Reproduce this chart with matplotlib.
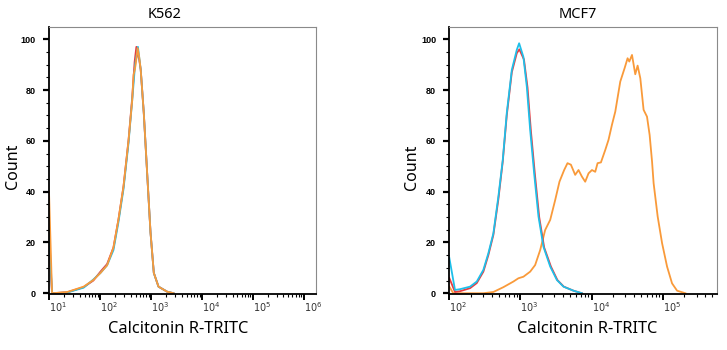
import numpy as np
import matplotlib
matplotlib.use("Agg")
import matplotlib.pyplot as plt
from matplotlib.ticker import LogLocator, MultipleLocator, NullFormatter

# histogram traces, x given as log10(intensity)
k562_red_log = [1.0, 1.06, 1.36, 1.68, 1.87, 2.01, 2.14, 2.265, 2.363, 2.462, 2.56, 2.633,
                2.68, 2.715, 2.735, 2.77, 2.80, 2.86, 2.927, 2.992, 3.057, 3.149, 3.32, 3.444]
k562_red = [20, 0, 0.4, 2.4, 5.0, 8.5, 11.5, 18, 29, 42, 60, 77,
            91, 97, 94, 92, 88, 71, 47, 24, 8, 2.6, 0.6, 0]
k562_cyan_log = [1.0, 1.06, 1.36, 1.68, 1.87, 2.01, 2.14, 2.265, 2.363, 2.462, 2.56, 2.633,
                 2.69, 2.745, 2.80, 2.86, 2.927, 2.992, 3.057, 3.149, 3.32, 3.444]
k562_cyan = [25, 0, 0.3, 2.2, 5.4, 8, 11, 17, 28, 41, 59, 76,
             90, 97, 88, 71, 47, 24, 8, 2.6, 0.6, 0]
k562_orange_log = [1.0, 1.06, 1.36, 1.68, 1.87, 2.01, 2.14, 2.265, 2.363, 2.462, 2.56, 2.633,
                   2.66, 2.684, 2.70, 2.74, 2.77, 2.80, 2.86, 2.927, 2.992, 3.057, 3.149, 3.32, 3.444]
k562_orange = [40, 0, 0.5, 2.6, 5.2, 8, 11, 18, 29, 42, 60, 76,
               86, 88, 90, 96.5, 93, 88, 71, 47, 24, 8, 2.6, 0.6, 0]

mcf7_cyan_log = [2.0, 2.08, 2.151, 2.292, 2.386, 2.479, 2.549, 2.62, 2.69, 2.752, 2.808, 2.879,
                 2.949, 2.982, 3.042, 3.09, 3.137, 3.193, 3.254, 3.324, 3.419, 3.513, 3.606,
                 3.746, 3.865]
mcf7_cyan = [14, 1.3, 1.6, 2.6, 4.6, 9.2, 15.7, 23.6, 38, 52.5, 70.9, 87.9,
             95.8, 98.4, 93, 81.3, 64.3, 47.2, 30.2, 18.3, 10.5, 5.2, 2.6,
             1, 0]
mcf7_red_log = [2.0, 2.08, 2.151, 2.292, 2.386, 2.479, 2.549, 2.62, 2.69, 2.752, 2.808, 2.879,
                2.949, 2.985, 3.05, 3.10, 3.147, 3.203, 3.264, 3.334, 3.429, 3.52, 3.61,
                3.746, 3.865]
mcf7_red = [6, 0.5, 0.8, 2.0, 4.0, 8.5, 15, 23, 37, 52, 70, 87,
            94.5, 96, 92, 81, 64, 47, 30, 18, 10.5, 5.2, 2.6,
            1, 0]
mcf7_orange_log = [2.0, 2.056, 2.479, 2.62, 2.761, 2.901, 2.972, 3.042, 3.137, 3.207, 3.278,
                   3.348, 3.419, 3.489, 3.549, 3.615, 3.662, 3.71, 3.77, 3.817, 3.865, 3.911,
                   3.958, 4.006, 4.052, 4.085, 4.132, 4.193, 4.239, 4.287, 4.334, 4.404,
                   4.465, 4.507, 4.531, 4.569, 4.615, 4.648, 4.686, 4.732, 4.78, 4.817,
                   4.851, 4.873, 4.93, 4.992, 5.062, 5.132, 5.203, 5.32]
mcf7_orange = [2.6, 0, 0, 0.5, 2.4, 4.6, 5.9, 6.5, 8.5, 11.1, 17,
               24.9, 28.9, 36.7, 43.9, 48.5, 51.2, 50.6, 46.6, 48.5, 45.9, 43.9,
               47.2, 48.5, 47.8, 51.2, 51.5, 56.4, 60.4, 66.3, 71.5, 83.3,
               88.6, 92.5, 91.2, 93.8, 86.2, 89.6, 84.6, 72.2, 69.5, 62.3,
               51.8, 43.3, 30.2, 19.7, 10.5, 3.9, 1, 0]

RED = "#EA3B3F"
CYAN = "#1FBFE9"
ORANGE = "#F99A3A"

fig = plt.figure(figsize=(7.27, 3.5), dpi=100)
W, H = 727.0, 350.0


def make_ax(x0, x1, y0=27.0, y1=293.5):
    return fig.add_axes([x0 / W, (H - y1) / H, (x1 - x0) / W, (y1 - y0) / H])


def style(ax, xlim):
    ax.set_xscale("log")
    ax.set_xlim(*xlim)
    ax.set_ylim(-0.1, 104.8)
    ax.xaxis.set_major_locator(LogLocator(base=10, numticks=20))
    ax.xaxis.set_minor_locator(LogLocator(base=10, subs=np.arange(2, 10), numticks=20))
    ax.xaxis.set_minor_formatter(NullFormatter())
    ax.yaxis.set_major_locator(MultipleLocator(20))
    ax.yaxis.set_minor_locator(MultipleLocator(5))
    for s in ["top", "right"]:
        ax.spines[s].set_color("#8a8a8a")
        ax.spines[s].set_linewidth(0.8)
    for s in ["left", "bottom"]:
        ax.spines[s].set_color("black")
        ax.spines[s].set_linewidth(1.3)
    ax.tick_params(axis="y", which="major", length=4.5, width=1.6, direction="out",
                   labelsize=6.5, pad=5)
    ax.tick_params(axis="y", which="minor", length=2.5, width=0.8, direction="out")
    ax.tick_params(axis="x", which="major", length=4, width=1.4, direction="out",
                   labelsize=7, pad=1, labelcolor="#333333")
    ax.tick_params(axis="x", which="minor", length=2.5, width=0.8, direction="out")
    for lab in ax.get_yticklabels():
        lab.set_fontweight("bold")
        lab.set_family("Liberation Sans")
    ax.xaxis.set_major_formatter(matplotlib.ticker.FuncFormatter(
        lambda v, p: r"$\mathregular{10^{%d}}$" % round(np.log10(v))))
    for lab in ax.get_xticklabels():
        lab.set_horizontalalignment("left")


ax1 = make_ax(49.0, 316.0)
lw = 1.3
ax1.plot(np.power(10.0, k562_red_log), k562_red, color=RED, lw=lw)
ax1.plot(np.power(10.0, k562_cyan_log), k562_cyan, color=CYAN, lw=lw)
ax1.plot(np.power(10.0, k562_orange_log), k562_orange, color=ORANGE, lw=lw)
style(ax1, (10.0, 10 ** 6.24))

ax2 = make_ax(449.3, 716.7)
ax2.plot(np.power(10.0, mcf7_orange_log), mcf7_orange, color=ORANGE, lw=lw)
ax2.plot(np.power(10.0, mcf7_red_log), mcf7_red, color=RED, lw=lw)
ax2.plot(np.power(10.0, mcf7_cyan_log), mcf7_cyan, color=CYAN, lw=lw)
style(ax2, (100.0, 10 ** 5.76))

for ax in (ax1, ax2):
    for lab in ax.get_xticklabels():
        lab.set_horizontalalignment("left")

font = "Noto Sans"
fig.text(165 / W, 1 - 14 / H, "K562", ha="center", va="center", fontsize=10.5, family=font)
fig.text(577.7 / W, 1 - 14 / H, "MCF7", ha="center", va="center", fontsize=10.5, family=font)
fig.text(178 / W, 1 - 329 / H, "Calcitonin R-TRITC", ha="center", va="center",
         fontsize=11.8, family=font)
fig.text(587.5 / W, 1 - 329 / H, "Calcitonin R-TRITC", ha="center", va="center",
         fontsize=11.8, family=font)
fig.text(13 / W, 1 - 166 / H, "Count", ha="center", va="center", rotation=90,
         fontsize=11.5, family=font)
fig.text(412 / W, 1 - 167 / H, "Count", ha="center", va="center", rotation=90,
         fontsize=11.5, family=font)

fig.savefig("out.png", dpi=100)
